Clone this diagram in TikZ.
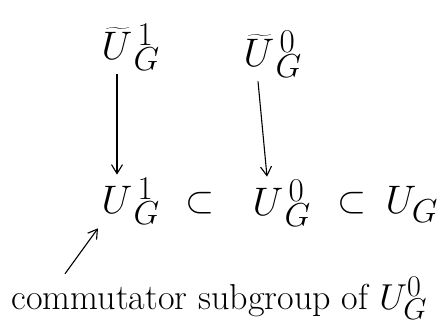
\documentclass[tikz,border=0pt]{standalone}
\usepackage{tikz}
\usetikzlibrary{positioning, arrows.meta, calc}

\begin{document}
\begin{tikzpicture}[
    x=1pt, y=-1pt,
    grp/.style={
        inner sep=2pt,
        anchor=base west,
        font=\Huge,
        scale=1.6
    },
    incl/.style={
        inner sep=1pt,
        font=\Huge,
        scale=1.5
    },
    note/.style={
        inner sep=1pt,
        anchor=base west,
        font=\Huge,
        scale=1.45
    },
    arrow/.style={
        line width=1.1pt,
        -{Straight Barb[length=9pt, width=11pt]}
    }
]
\useasboundingbox (0,0) rectangle (439,328);

% Nodes
\node (ut1) [grp] at (98,60) {$\widetilde{U}_{\,G}^{\,1}$};
\node (ut0) [grp] at (240,67) {$\widetilde{U}_{\,G}^{\,0}$};

\node (u1) [grp] at (98,214) {$U_{\,G}^{\,1}$};
\node (c1) [incl] at (200,203) {$\subset$};
\node (u0) [grp] at (249,216) {$U_{\,G}^{\,0}$};
\node (c2) [incl] at (352,203) {$\subset$};
\node (ug) [grp] at (382,214) {$U_{G}$};

\node (cm) [note] at (10,310) {commutator subgroup of $U_G^0$};

% Connections
\draw [arrow] (ut1.south -| 117,0) -- (u1.north -| 117,0);
\draw [arrow] (ut0.south -| 258,0) -- (u0.north -| 267,0);
\draw [arrow] ($(cm.north west)+(55,-2)$) -- (u1.south west);

\end{tikzpicture}
\end{document}
